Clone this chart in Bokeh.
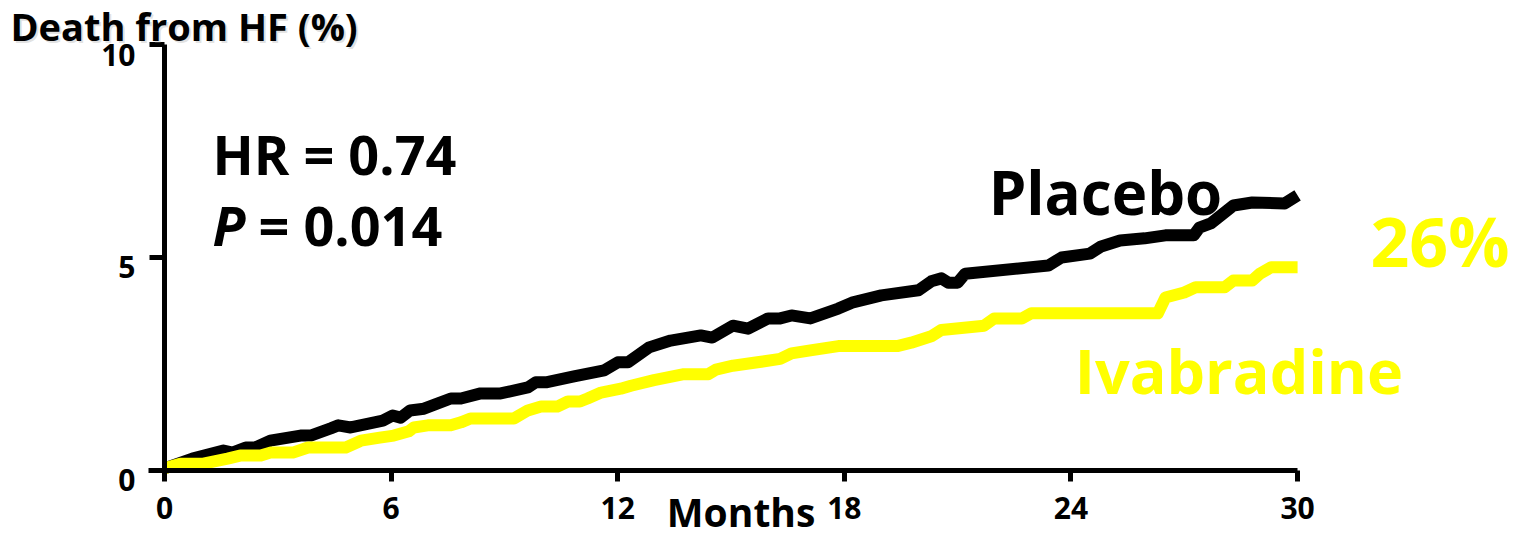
from bokeh.plotting import figure
from bokeh.models import LinearAxis, FixedTicker, Range1d, Label
from bokeh.core.properties import value
from bokeh.embed import file_html
from bokeh.resources import INLINE

# Axis ticks
month_ticks = [0, 6, 12, 18, 24, 30]
pct_ticks = [0, 5, 10]
pct_tick_labels = ["0", "5", "10"]

# Cumulative death from heart failure (%), by month
placebo_months = [0, 0.74, 1.56, 1.8, 2.15, 2.4, 2.8, 3.6, 3.87, 4.4, 4.6, 4.93, 5.78, 6.04,
                  6.25, 6.5, 6.87, 7.58, 7.85, 8.37, 8.9, 9.62, 9.83, 10.1, 10.84, 11.64,
                  12.0, 12.27, 12.83, 13.4, 14.2, 14.5, 15.05, 15.45, 15.98, 16.3, 16.6,
                  17.1, 17.84, 18.2, 18.98, 19.96, 20.3, 20.57, 20.75, 21.0, 21.2, 23.4,
                  23.75, 24.5, 24.8, 25.3, 25.95, 26.5, 27.25, 27.4, 27.7, 27.9, 28.3,
                  28.8, 29.66, 30.0]
placebo_pct = [0.05, 0.28, 0.47, 0.42, 0.54, 0.54, 0.70, 0.82, 0.82, 0.99, 1.06, 1.01, 1.17,
               1.29, 1.24, 1.41, 1.45, 1.69, 1.69, 1.81, 1.81, 1.95, 2.07, 2.07, 2.21, 2.35,
               2.54, 2.54, 2.89, 3.05, 3.17, 3.12, 3.40, 3.33, 3.57, 3.57, 3.64, 3.57, 3.80,
               3.94, 4.11, 4.23, 4.44, 4.51, 4.41, 4.41, 4.62, 4.81, 5.0, 5.09, 5.26, 5.40,
               5.45, 5.52, 5.52, 5.70, 5.80, 5.94, 6.22, 6.29, 6.27, 6.46]

ivab_months = [0, 0.42, 1.03, 1.67, 2.0, 2.55, 2.8, 3.4, 3.8, 4.8, 5.2, 5.7, 6.07, 6.47, 6.6,
               6.97, 7.58, 7.85, 8.1, 9.25, 9.62, 9.97, 10.4, 10.68, 11.0, 11.2, 11.56, 12.08,
               12.35, 12.96, 13.75, 14.4, 14.6, 15.05, 15.7, 16.3, 16.6, 17.1, 17.84, 19.4,
               19.77, 20.3, 20.57, 21.7, 21.97, 22.7, 22.95, 26.3, 26.5, 27.0, 27.3, 28.07,
               28.3, 28.8, 29.0, 29.3, 30.0]
ivab_pct = [0.05, 0.16, 0.16, 0.28, 0.35, 0.35, 0.42, 0.42, 0.54, 0.54, 0.70, 0.77, 0.82,
            0.92, 1.01, 1.06, 1.06, 1.13, 1.22, 1.22, 1.41, 1.50, 1.50, 1.62, 1.62, 1.69,
            1.83, 1.92, 1.99, 2.12, 2.26, 2.26, 2.37, 2.46, 2.54, 2.62, 2.75, 2.82, 2.92,
            2.92, 3.0, 3.15, 3.30, 3.40, 3.57, 3.57, 3.69, 3.69, 4.06, 4.18, 4.30, 4.30,
            4.46, 4.46, 4.62, 4.77, 4.77]

FONT = "Open Sans"
YELLOW = "#FFFF00"

p = figure(width=1518, height=539, output_backend="svg", toolbar_location=None,
           x_range=Range1d(-4.342, 35.849), y_range=Range1d(-1.620, 11.033),
           x_axis_location=None, y_axis_location=None, min_border=0)
p.outline_line_color = None
p.background_fill_color = "white"
p.border_fill_color = "white"
p.xgrid.visible = False
p.ygrid.visible = False

p.line(placebo_months, placebo_pct, line_color="black", line_width=12, line_join="round")
p.line(ivab_months, ivab_pct, line_color=YELLOW, line_width=12, line_join="round")


def style_axis(ax, tick_out, standoff):
    ax.axis_line_width = 5
    ax.axis_line_color = "black"
    ax.major_tick_line_width = 5
    ax.major_tick_line_color = "black"
    ax.major_tick_in = 0
    ax.major_tick_out = tick_out
    ax.minor_tick_line_color = None
    ax.major_label_text_font = FONT
    ax.major_label_text_font_style = "bold"
    ax.major_label_text_font_size = "30px"
    ax.major_label_text_color = "black"
    ax.major_label_standoff = standoff


xaxis = LinearAxis(fixed_location=0, bounds=(-0.42, 30), ticker=FixedTicker(ticks=month_ticks))
style_axis(xaxis, 11, 16)
p.add_layout(xaxis, "below")

yaxis = LinearAxis(fixed_location=0, bounds=(0, 10), ticker=FixedTicker(ticks=pct_ticks))
style_axis(yaxis, 15, 14)
yaxis.major_label_text_alpha = 0
p.add_layout(yaxis, "left")

# Y tick labels sit a little below their ticks
p.text(x=[0] * len(pct_ticks), y=pct_ticks, text=pct_tick_labels,
       x_offset=-29, y_offset=10, text_align="right", text_baseline="middle",
       text_font=value(FONT), text_font_style="bold", text_font_size="30px",
       text_color="black")


def add_text(x, y, text, size, color="black", style="bold", **kw):
    lab = Label(x=x, y=y, text=text, text_font=FONT, text_font_style=style,
                text_font_size=size, text_color=color, text_baseline="alphabetic", **kw)
    p.add_layout(lab)
    return lab


# Axis titles
add_text(-4.08, 10.44, "Death from HF (%)", "38px", color="#999999",
         text_alpha=0.3, x_offset=2, y_offset=-2)
add_text(-4.08, 10.44, "Death from HF (%)", "38px")
add_text(13.3, -0.97, "Months", "39px")

# Statistics
add_text(1.27, 7.43, "HR = 0.74", "54px")
add_text(1.27, 5.76, "P", "54px", style="bold italic")
add_text(2.49, 5.76, "= 0.014", "54px")

# Series labels
add_text(21.82, 6.53, "Placebo", "60px")
add_text(31.93, 5.40, "26%", "68px", color=YELLOW)
add_text(24.1, 2.34, "Ivabradine", "61px", color=YELLOW)

open("out.html", "w").write(file_html(p, INLINE))
